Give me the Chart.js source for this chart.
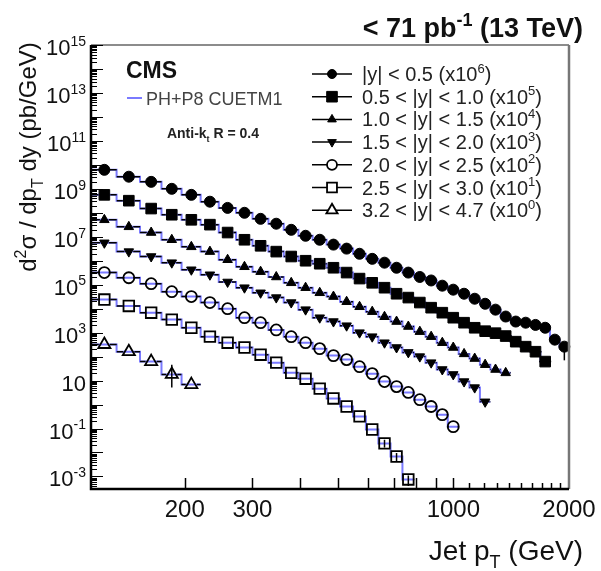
<!DOCTYPE html>
<html>
<head>
<meta charset="utf-8">
<script src="https://cdn.jsdelivr.net/npm/chart.js"></script>
<style>
  body { margin: 0; background: #fff; }
  #wrap { width: 601px; height: 571px; }
</style>
</head>
<body>
<div id="wrap"><canvas id="c" width="601" height="571"></canvas></div>
<script>
// jet pT bins (GeV)
const binEdges = [114, 133, 153, 174, 196, 220, 245, 272, 300, 330, 362, 395, 430, 468, 507, 548, 592, 638, 686, 737, 790, 846, 905, 967, 1032, 1101, 1172, 1248, 1327, 1410, 1497, 1588, 1684, 1784, 1890, 2000];
const ptCenters = [123.5, 143, 163.5, 185, 208, 232.5, 258.5, 286, 315, 346, 378.5, 412.5, 449, 487.5, 527.5, 570, 615, 662, 711.5, 763.5, 818, 875.5, 936, 999.5, 1066.5, 1136.5, 1210, 1287.5, 1368.5, 1453.5, 1542.5, 1636, 1734, 1837, 1945];

// d2sigma/dpT dy (pb/GeV), already scaled
const yBin0 = [6.2e9, 3.2e9, 1.95e9, 1.0e9, 5.6e8, 2.9e8, 1.6e8, 1.0e8, 5.6e7, 3.5e7, 1.95e7, 1.1e7, 7.5e6, 4.7e6, 3.2e6, 1.95e6, 1.2e6, 8.3e5, 5.1e5, 3.2e5, 2.1e5, 1.5e5, 9.1e4, 6.2e4, 4.2e4, 2.6e4, 1.6e4, 9.1e3, 4.7e3, 2.9e3, 2.6e3, 2.1e3, 1.6e3, 510, 260];
const yBin1 = [5.6e8, 3.2e8, 1.5e8, 8.3e7, 5.1e7, 3.2e7, 1.5e7, 7.5e6, 4.2e6, 2.4e6, 1.5e6, 1.0e6, 7.5e5, 5.1e5, 3.2e5, 1.8e5, 1.2e5, 7.5e4, 4.2e4, 2.9e4, 1.8e4, 1.1e4, 6.8e3, 4.2e3, 2.6e3, 1.6e3, 1.15e3, 950, 720, 420, 260, 160, 62];
const yBin2 = [5.1e7, 2.6e7, 1.5e7, 7.5e6, 3.8e6, 2.4e6, 1.1e6, 5.6e5, 3.5e5, 2.1e5, 1.2e5, 7.5e4, 4.6e4, 3.2e4, 1.95e4, 1.2e4, 7.5e3, 4.6e3, 2.9e3, 1.8e3, 1.1e3, 680, 380, 240, 130, 83, 46, 29, 21];
const yBin3 = [5.6e6, 2.4e6, 1.5e6, 8.3e5, 4.2e5, 2.6e5, 1.3e5, 7.5e4, 4.6e4, 2.9e4, 1.8e4, 9.1e3, 4.2e3, 2.9e3, 1.95e3, 1.0e3, 680, 380, 240, 150, 100, 56, 29, 18, 9.1, 5.1, 1.3];
const yBin4 = [3.2e5, 1.95e5, 1.1e5, 5.1e4, 3.2e4, 1.8e4, 1.0e4, 4.2e3, 2.6e3, 1.3e3, 680, 380, 215, 110, 75, 38, 19.5, 9.1, 5.6, 3.2, 1.6, 0.83, 0.38, 0.12];
const yBin5 = [2.4e4, 1.3e4, 6.8e3, 3.5e3, 1.6e3, 680, 380, 240, 120, 56, 21, 12, 4.6, 1.8, 0.83, 0.32, 0.091, 0.024, 6.8e-3, 7.5e-4];
const yBin6 = [320, 160, 62, 18, 6.8];

const seriesLabels = ['|y| < 0.5', '0.5 < |y| < 1.0', '1.0 < |y| < 1.5', '1.5 < |y| < 2.0', '2.0 < |y| < 2.5', '2.5 < |y| < 3.0', '3.2 < |y| < 4.7'];
const seriesExp = ['6', '5', '4', '3', '2', '1', '0'];

// [series, point, low, high]
const errBars = [[0, 34, 70, 330], [6, 3, 5.2, 46], [5, 17, 0.016, 0.034], [5, 18, 4.2e-3, 9.5e-3], [5, 19, 4.0e-4, 1.1e-3]];

const yLabelExp = [15, 13, 11, 9, 7, 5, 3, 1, -1, -3];
const xLabelVals = [200, 300, 1000, 2000];
const xMajorTicks = [200, 300, 400, 500, 600, 700, 800, 900, 1000];
const xMinorTicks = [1100, 1200, 1300, 1400, 1500, 1600, 1700, 1800, 1900];

const allSeries = [yBin0, yBin1, yBin2, yBin3, yBin4, yBin5, yBin6];

const FONT = '"Liberation Sans", Arial, Helvetica, sans-serif';
const THEORY = '#7a7aff';

const markers = [
  { style: 'circle', r: 5.5, fill: true, rot: 0, lr: 4.5 },
  { style: 'rect', r: 7.5, fill: true, rot: 0, lr: 7.5 },
  { style: 'triangle', r: 5.5, fill: true, rot: 0, lr: 5 },
  { style: 'triangle', r: 5.5, fill: true, rot: 180, lr: 5 },
  { style: 'circle', r: 5.5, fill: false, rot: 0, lr: 5 },
  { style: 'rect', r: 7.5, fill: false, rot: 0, lr: 7 },
  { style: 'triangle', r: 7, fill: false, rot: 0, lr: 6.5 }
];

const datasets = [];
allSeries.forEach((vals, k) => {
  const m = markers[k];
  datasets.push({
    label: seriesLabels[k],
    data: vals.map((v, i) => ({ x: ptCenters[i], y: v })),
    showLine: false,
    pointStyle: m.style,
    pointRadius: m.r,
    pointRotation: m.rot,
    pointBackgroundColor: m.fill ? '#000' : 'rgba(0,0,0,0)',
    pointBorderColor: '#000',
    pointBorderWidth: m.fill ? 1 : 1.8,
    clip: false,
    order: 0,
    isData: true,
    series: k
  });
  const th = vals.map((v, i) => ({ x: ptCenters[i], y: v }));
  th.unshift({ x: binEdges[0], y: vals[0] });
  th.push({ x: binEdges[vals.length], y: vals[vals.length - 1] });
  datasets.push({
    label: 'theory ' + k,
    data: th,
    stepped: 'middle',
    borderColor: THEORY,
    borderWidth: 2,
    pointRadius: 0,
    fill: false,
    order: 1
  });
});

function drawRich(ctx, parts, x, y, size, align, bold, color) {
  const w8 = bold ? 'bold ' : '';
  const fonts = parts.map(p => w8 + (p[1] === 'n' ? size : Math.round(size * 0.65)) + 'px ' + FONT);
  let total = 0;
  const widths = parts.map((p, i) => { ctx.font = fonts[i]; const w = ctx.measureText(p[0]).width; total += w; return w; });
  let cx = align === 'right' ? x - total : align === 'center' ? x - total / 2 : x;
  ctx.fillStyle = color || '#000';
  ctx.textAlign = 'left';
  ctx.textBaseline = 'alphabetic';
  parts.forEach((p, i) => {
    ctx.font = fonts[i];
    const dy = p[1] === 'sup' ? -size * 0.42 : p[1] === 'sub' ? size * 0.3 : 0;
    ctx.fillText(p[0], cx, y + dy);
    cx += widths[i];
  });
}

function drawMarker(ctx, m, x, y, r) {
  ctx.save();
  ctx.beginPath();
  if (m.style === 'circle') {
    ctx.arc(x, y, r, 0, 2 * Math.PI);
  } else if (m.style === 'rect') {
    const s = r * Math.SQRT1_2;
    ctx.rect(x - s, y - s, 2 * s, 2 * s);
  } else {
    for (let j = 0; j < 3; j++) {
      const a = m.rot * Math.PI / 180 + j * 2 * Math.PI / 3;
      const px = x + Math.sin(a) * r, py = y - Math.cos(a) * r;
      if (j) ctx.lineTo(px, py); else ctx.moveTo(px, py);
    }
    ctx.closePath();
  }
  ctx.fillStyle = m.fill ? '#000' : '#fff';
  ctx.fill();
  ctx.lineWidth = m.fill ? 1 : 1.8;
  ctx.strokeStyle = '#000';
  ctx.stroke();
  ctx.restore();
}

const decor = {
  id: 'decor',
  beforeDatasetDraw(chart, args) {
    const ds = chart.data.datasets[args.index];
    if (!ds.isData) return;
    const ctx = chart.ctx, xs = chart.scales.x, ys = chart.scales.y;
    const k = ds.series, gap = markers[k].r * 0.8;
    ctx.save();
    ctx.strokeStyle = '#000';
    ctx.lineWidth = 1.5;
    ds.data.forEach((p, i) => {
      const xl = xs.getPixelForValue(binEdges[i]);
      const xr = xs.getPixelForValue(binEdges[i + 1]);
      const xc = xs.getPixelForValue(p.x);
      const y = ys.getPixelForValue(p.y);
      ctx.beginPath();
      ctx.moveTo(xl, y); ctx.lineTo(xc - gap, y);
      ctx.moveTo(xc + gap, y); ctx.lineTo(xr, y);
      ctx.stroke();
    });
    errBars.filter(e => e[0] === k).forEach(e => {
      const xc = xs.getPixelForValue(ptCenters[e[1]]);
      ctx.beginPath();
      ctx.moveTo(xc, ys.getPixelForValue(e[2]));
      ctx.lineTo(xc, ys.getPixelForValue(e[3]));
      ctx.stroke();
    });
    ctx.restore();
  },
  afterDraw(chart) {
    const ctx = chart.ctx, xs = chart.scales.x, ys = chart.scales.y;
    const a = chart.chartArea;
    ctx.save();

    // frame
    ctx.strokeStyle = '#666'; ctx.lineWidth = 1.5;
    ctx.beginPath(); ctx.moveTo(a.left, a.top); ctx.lineTo(a.right, a.top); ctx.stroke();
    ctx.strokeStyle = '#777'; ctx.lineWidth = 2.5;
    ctx.beginPath(); ctx.moveTo(a.right, a.top); ctx.lineTo(a.right, a.bottom); ctx.stroke();
    ctx.strokeStyle = '#000'; ctx.lineWidth = 2.5;
    ctx.beginPath(); ctx.moveTo(a.left, a.top); ctx.lineTo(a.left, a.bottom); ctx.lineTo(a.right, a.bottom); ctx.stroke();

    // y ticks
    ctx.lineWidth = 1;
    for (let e = -4; e <= 15; e++) {
      for (let m = 1; m <= 9; m++) {
        const v = m * Math.pow(10, e);
        if (v < ys.min || v > ys.max) continue;
        const y = Math.round(ys.getPixelForValue(v)) + 0.5;
        const len = m === 1 ? 12 : 6;
        ctx.beginPath(); ctx.moveTo(a.left, y); ctx.lineTo(a.left + len, y); ctx.stroke();
      }
    }
    // x ticks
    ctx.lineWidth = 1.5;
    xMajorTicks.forEach(v => {
      const x = Math.round(xs.getPixelForValue(v)) + 0.5;
      ctx.beginPath(); ctx.moveTo(x, a.bottom); ctx.lineTo(x, a.bottom - 11); ctx.stroke();
    });
    xMinorTicks.forEach(v => {
      const x = Math.round(xs.getPixelForValue(v)) + 0.5;
      ctx.beginPath(); ctx.moveTo(x, a.bottom); ctx.lineTo(x, a.bottom - 6); ctx.stroke();
    });

    // tick labels
    yLabelExp.forEach(e => {
      const y = ys.getPixelForValue(Math.pow(10, e));
      const parts = e === 1 ? [['10', 'n']] : [['10', 'n'], [String(e), 'sup']];
      drawRich(ctx, parts, 86, y + 10, 22, 'right', false, '#111');
    });
    xLabelVals.forEach(v => {
      drawRich(ctx, [[String(v), 'n']], xs.getPixelForValue(v), 517, 24, 'center', false, '#111');
    });

    // axis titles
    drawRich(ctx, [['Jet p', 'n'], ['T', 'sub'], [' (GeV)', 'n']], 583, 560, 28, 'right', false, '#111');
    ctx.save();
    ctx.translate(36, 157);
    ctx.rotate(-Math.PI / 2);
    drawRich(ctx, [['d', 'n'], ['2', 'sup'], ['\u03c3 / dp', 'n'], ['T', 'sub'], [' dy (pb/GeV)', 'n']], 0, 0, 24, 'center', false, '#111');
    ctx.restore();

    // header
    drawRich(ctx, [['< 71 pb', 'n'], ['-1', 'sup'], [' (13 TeV)', 'n']], 583, 37, 27, 'right', true, '#111');

    // labels inside the frame
    drawRich(ctx, [['CMS', 'n']], 126, 78, 23, 'left', true, '#111');
    ctx.strokeStyle = THEORY; ctx.lineWidth = 2;
    ctx.beginPath(); ctx.moveTo(127, 98); ctx.lineTo(142, 98); ctx.stroke();
    drawRich(ctx, [['PH+P8 CUETM1', 'n']], 146, 105, 18, 'left', false, '#444');
    drawRich(ctx, [['Anti-k', 'n'], ['t', 'sub'], [' R = 0.4', 'n']], 213, 138, 14, 'center', true, '#222');

    // legend
    seriesLabels.forEach((lab, k) => {
      const y = 74 + k * 22.7;
      ctx.strokeStyle = '#000'; ctx.lineWidth = 1.5;
      ctx.beginPath(); ctx.moveTo(312, y); ctx.lineTo(352, y); ctx.stroke();
      drawMarker(ctx, markers[k], 332, y, markers[k].lr);
      drawRich(ctx, [[lab + ' (x10', 'n'], [seriesExp[k], 'sup'], [')', 'n']], 362, y + 7, 20, 'left', false, '#222');
    });

    ctx.restore();
  }
};

new Chart(document.getElementById('c'), {
  type: 'line',
  data: { datasets },
  options: {
    responsive: false,
    animation: false,
    events: [],
    layout: { padding: { left: 91, right: 32, top: 45, bottom: 82 } },
    plugins: { legend: { display: false }, tooltip: { enabled: false } },
    scales: {
      x: { type: 'logarithmic', min: 114, max: 2000, display: false },
      y: { type: 'logarithmic', min: 3.2e-4, max: 1e15, display: false }
    }
  },
  plugins: [decor]
});
</script>
</body>
</html>
